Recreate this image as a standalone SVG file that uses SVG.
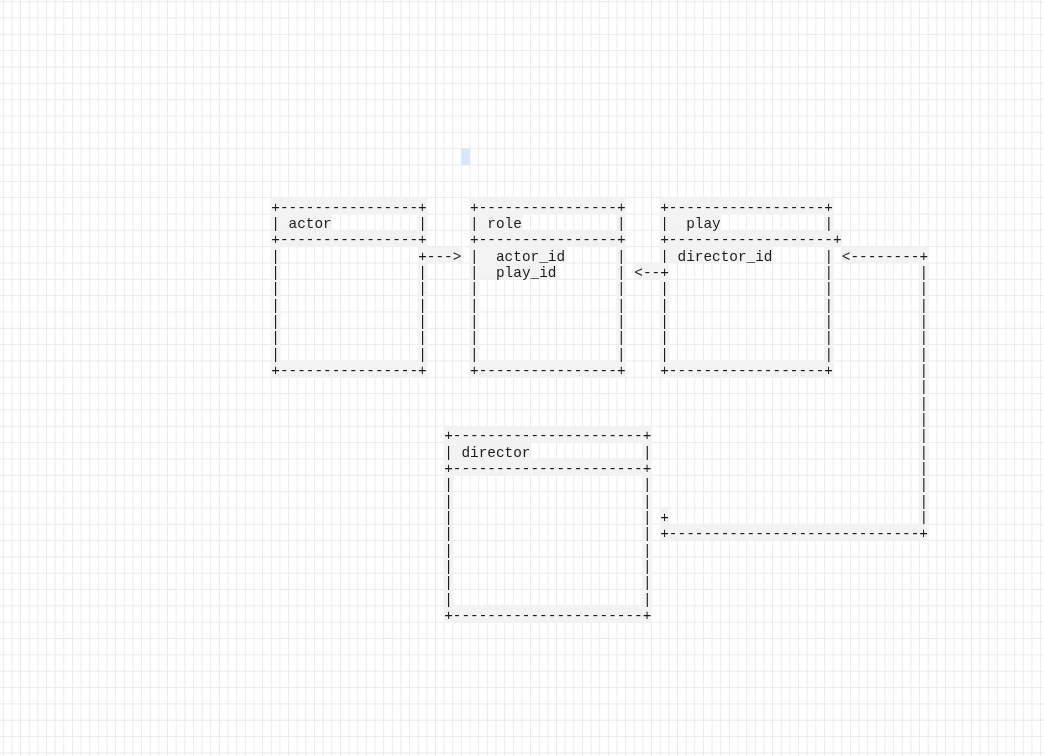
<svg xmlns="http://www.w3.org/2000/svg" width="1044" height="756" viewBox="0 0 1044 756">
<defs>
<pattern id="grid" x="2.8" y="1.2" width="8.644" height="16.33" patternUnits="userSpaceOnUse">
<path d="M0.5 0V16.33M0 0.5H8.644" stroke="#ebebeb" stroke-width="1" fill="none"/>
</pattern>
<filter id="gray" x="0" y="0" width="1" height="1"><feOffset dx="0" dy="0"/></filter>
<style>
.t{font-family:"Liberation Mono","DejaVu Sans Mono",monospace;font-size:14.4px;fill:#1c1c1c;white-space:pre}
.bg{fill:#f3f3f3}
</style>
</defs>
<rect width="1044" height="756" fill="#ffffff"/>
<rect width="1044" height="756" fill="url(#grid)"/>
<rect x="461.43" y="148.7" width="8.644" height="16.33" fill="#dae7fb"/>
<g filter="url(#gray)">
<g id="actor">
<rect class="bg" x="271.26" y="197.66" width="155.59" height="16.33"/>
<rect class="bg" x="271.26" y="213.99" width="60.51" height="16.33"/>
<rect class="bg" x="271.26" y="230.32" width="155.59" height="16.33"/>
<rect class="bg" x="271.26" y="360.96" width="155.59" height="16.33"/>
<rect class="bg" x="271.26" y="197.66" width="8.644" height="179.63"/>
<rect class="bg" x="418.21" y="197.66" width="8.644" height="179.63"/>
<text class="t" x="271.26" y="211.66">+----------------+</text>
<text class="t" x="271.26" y="227.99">| actor</text>
<text class="t" x="418.21" y="227.99">|</text>
<text class="t" x="271.26" y="244.32">+----------------+</text>
<text class="t"><tspan x="271.26" y="260.65">|</tspan><tspan x="271.26" y="276.98">|</tspan><tspan x="271.26" y="293.31">|</tspan><tspan x="271.26" y="309.64">|</tspan><tspan x="271.26" y="325.97">|</tspan><tspan x="271.26" y="342.30">|</tspan><tspan x="271.26" y="358.63">|</tspan></text>
<text class="t"><tspan x="418.21" y="276.98">|</tspan><tspan x="418.21" y="293.31">|</tspan><tspan x="418.21" y="309.64">|</tspan><tspan x="418.21" y="325.97">|</tspan><tspan x="418.21" y="342.30">|</tspan><tspan x="418.21" y="358.63">|</tspan></text>
<text class="t" x="271.26" y="374.96">+----------------+</text>
</g>

<g id="role">
<rect class="bg" x="470.08" y="197.66" width="155.59" height="16.33"/>
<rect class="bg" x="470.08" y="213.99" width="51.86" height="16.33"/>
<rect class="bg" x="470.08" y="230.32" width="155.59" height="16.33"/>
<rect class="bg" x="470.08" y="246.65" width="95.08" height="16.33"/>
<rect class="bg" x="470.08" y="262.98" width="86.44" height="16.33"/>
<rect class="bg" x="470.08" y="360.96" width="155.59" height="16.33"/>
<rect class="bg" x="470.08" y="197.66" width="8.644" height="179.63"/>
<rect class="bg" x="617.02" y="197.66" width="8.644" height="179.63"/>
<text class="t" x="470.08" y="211.66">+----------------+</text>
<text class="t" x="470.08" y="227.99">| role</text>
<text class="t" x="617.02" y="227.99">|</text>
<text class="t" x="470.08" y="244.32">+----------------+</text>
<text class="t" x="470.08" y="260.65">|  actor_id</text>
<text class="t" x="470.08" y="276.98">|  play_id</text>
<text class="t"><tspan x="470.08" y="293.31">|</tspan><tspan x="470.08" y="309.64">|</tspan><tspan x="470.08" y="325.97">|</tspan><tspan x="470.08" y="342.30">|</tspan><tspan x="470.08" y="358.63">|</tspan></text>
<text class="t"><tspan x="617.02" y="260.65">|</tspan><tspan x="617.02" y="276.98">|</tspan><tspan x="617.02" y="293.31">|</tspan><tspan x="617.02" y="309.64">|</tspan><tspan x="617.02" y="325.97">|</tspan><tspan x="617.02" y="342.30">|</tspan><tspan x="617.02" y="358.63">|</tspan></text>
<text class="t" x="470.08" y="374.96">+----------------+</text>
</g>

<g id="play">
<rect class="bg" x="660.24" y="197.66" width="172.88" height="16.33"/>
<rect class="bg" x="660.24" y="213.99" width="60.51" height="16.33"/>
<rect class="bg" x="660.24" y="230.32" width="181.52" height="16.33"/>
<rect class="bg" x="660.24" y="246.65" width="112.37" height="16.33"/>
<rect class="bg" x="660.24" y="360.96" width="172.88" height="16.33"/>
<rect class="bg" x="660.24" y="197.66" width="8.644" height="179.63"/>
<rect class="bg" x="824.48" y="197.66" width="8.644" height="179.63"/>
<text class="t" x="660.24" y="211.66">+------------------+</text>
<text class="t" x="660.24" y="227.99">|  play</text>
<text class="t" x="824.48" y="227.99">|</text>
<text class="t" x="660.24" y="244.32">+-------------------+</text>
<text class="t" x="660.24" y="260.65">| director_id</text>
<text class="t"><tspan x="660.24" y="293.31">|</tspan><tspan x="660.24" y="309.64">|</tspan><tspan x="660.24" y="325.97">|</tspan><tspan x="660.24" y="342.30">|</tspan><tspan x="660.24" y="358.63">|</tspan></text>
<text class="t"><tspan x="824.48" y="260.65">|</tspan><tspan x="824.48" y="276.98">|</tspan><tspan x="824.48" y="293.31">|</tspan><tspan x="824.48" y="309.64">|</tspan><tspan x="824.48" y="325.97">|</tspan><tspan x="824.48" y="342.30">|</tspan><tspan x="824.48" y="358.63">|</tspan></text>
<text class="t" x="660.24" y="374.96">+------------------+</text>
</g>

<g id="director">
<rect class="bg" x="444.14" y="426.28" width="207.46" height="16.33"/>
<rect class="bg" x="444.14" y="442.61" width="86.44" height="16.33"/>
<rect class="bg" x="444.14" y="458.94" width="207.46" height="16.33"/>
<rect class="bg" x="444.14" y="605.91" width="207.46" height="16.33"/>
<rect class="bg" x="444.14" y="426.28" width="8.644" height="195.96"/>
<rect class="bg" x="642.96" y="426.28" width="8.644" height="195.96"/>
<text class="t" x="444.14" y="440.28">+----------------------+</text>
<text class="t" x="444.14" y="456.61">| director</text>
<text class="t" x="642.96" y="456.61">|</text>
<text class="t" x="444.14" y="472.94">+----------------------+</text>
<text class="t"><tspan x="444.14" y="489.27">|</tspan><tspan x="444.14" y="505.60">|</tspan><tspan x="444.14" y="521.93">|</tspan><tspan x="444.14" y="538.26">|</tspan><tspan x="444.14" y="554.59">|</tspan><tspan x="444.14" y="570.92">|</tspan><tspan x="444.14" y="587.25">|</tspan><tspan x="444.14" y="603.58">|</tspan></text>
<text class="t"><tspan x="642.96" y="489.27">|</tspan><tspan x="642.96" y="505.60">|</tspan><tspan x="642.96" y="521.93">|</tspan><tspan x="642.96" y="538.26">|</tspan><tspan x="642.96" y="554.59">|</tspan><tspan x="642.96" y="570.92">|</tspan><tspan x="642.96" y="587.25">|</tspan><tspan x="642.96" y="603.58">|</tspan></text>
<text class="t" x="444.14" y="619.91">+----------------------+</text>
</g>

<g id="connectors">
<rect class="bg" x="418.21" y="246.65" width="43.22" height="16.33"/>
<text class="t" x="418.21" y="260.65">+---&gt;</text>
<rect class="bg" x="634.31" y="262.98" width="34.58" height="16.33"/>
<text class="t" x="634.31" y="276.98">&lt;--+</text>
<rect class="bg" x="841.77" y="246.65" width="86.44" height="16.33"/>
<text class="t" x="841.77" y="260.65">&lt;--------+</text>
<rect class="bg" x="919.56" y="262.98" width="8.644" height="261.28"/>
<text class="t"><tspan x="919.56" y="276.98">|</tspan><tspan x="919.56" y="293.31">|</tspan><tspan x="919.56" y="309.64">|</tspan><tspan x="919.56" y="325.97">|</tspan><tspan x="919.56" y="342.30">|</tspan><tspan x="919.56" y="358.63">|</tspan><tspan x="919.56" y="374.96">|</tspan><tspan x="919.56" y="391.29">|</tspan><tspan x="919.56" y="407.62">|</tspan><tspan x="919.56" y="423.95">|</tspan><tspan x="919.56" y="440.28">|</tspan><tspan x="919.56" y="456.61">|</tspan><tspan x="919.56" y="472.94">|</tspan><tspan x="919.56" y="489.27">|</tspan><tspan x="919.56" y="505.60">|</tspan><tspan x="919.56" y="521.93">|</tspan></text>
<rect class="bg" x="660.24" y="507.93" width="8.644" height="16.33"/>
<text class="t" x="660.24" y="521.93">+</text>
<rect class="bg" x="660.24" y="524.26" width="267.96" height="16.33"/>
<text class="t" x="660.24" y="538.26">+-----------------------------+</text>
</g>
</g>
</svg>
